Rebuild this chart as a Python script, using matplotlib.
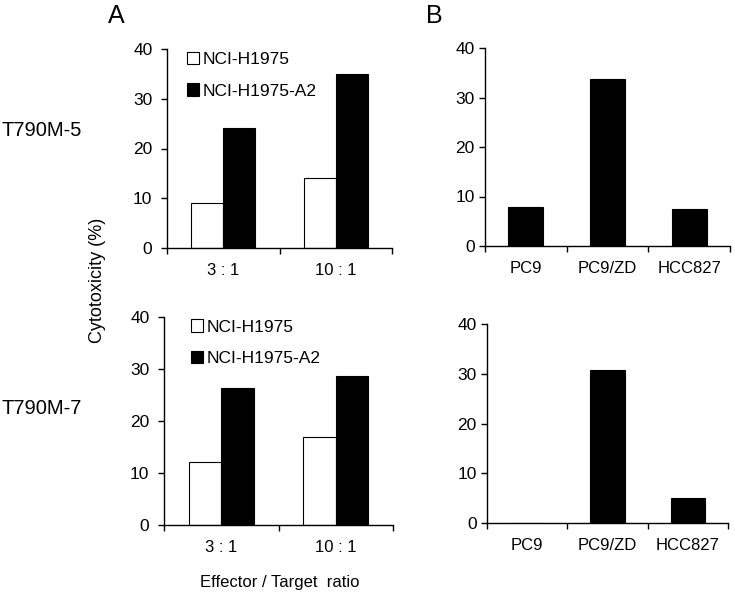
import numpy as np
import matplotlib
matplotlib.use("Agg")
import matplotlib.pyplot as plt

plt.rcParams["font.family"] = ["Liberation Sans", "DejaVu Sans"]

ratios = ["3 : 1", "10 : 1"]
series = ["NCI-H1975", "NCI-H1975-A2"]
cell_lines = ["PC9", "PC9/ZD", "HCC827"]

# panel A (ratio vs cytotoxicity)
t5_h1975 = [9.0, 14.0]
t5_a2 = [24.1, 34.9]
t7_h1975 = [12.1, 17.0]
t7_a2 = [26.3, 28.7]

# panel B (cell lines)
t5_lines = [7.8, 33.7, 7.5]
t7_lines = [0.0, 30.8, 5.1]

W, H = 735, 597
fig = plt.figure(figsize=(W / 100, H / 100), dpi=100)


def make_ax(x0, y0, x1, y1):
    # pixel box -> figure fraction
    return fig.add_axes([x0 / W, 1 - y1 / H, (x1 - x0) / W, (y1 - y0) / H])


def style(ax, labels, ypad):
    n = len(labels)
    ax.set_xlim(0, n)
    ax.set_ylim(0, 40)
    ax.set_yticks([0, 10, 20, 30, 40])
    ax.set_xticks(np.arange(n + 1))
    ax.set_xticklabels([])
    ax.set_xticks(np.arange(n) + 0.5, minor=True)
    ax.set_xticklabels(labels, minor=True)
    ax.tick_params(axis="x", which="major", direction="out", length=4.5, width=1)
    ax.tick_params(axis="x", which="minor", length=0, pad=11, labelsize=12)
    ax.tick_params(axis="y", direction="out", length=4.5, width=1, labelsize=12.5, pad=ypad)
    for s in ["top", "right"]:
        ax.spines[s].set_visible(False)
    for s in ["left", "bottom"]:
        ax.spines[s].set_linewidth(1.0)


def panel_a(ax, white, black, lx):
    x = np.arange(len(ratios)) + 0.5
    w = 0.285
    b1 = ax.bar(x - w / 2, white, w, color="white", edgecolor="black", linewidth=0.8, label=series[0])
    b2 = ax.bar(x + w / 2, black, w, color="black", edgecolor="black", linewidth=0.8, label=series[1])
    style(ax, ratios, 6)
    ax.legend(handles=[b1, b2], loc="upper left", bbox_to_anchor=(lx, 1.03), frameon=False,
              handlelength=0.7, handleheight=0.7, handletextpad=0.2, labelspacing=0.95,
              borderpad=0, fontsize=12.5)


def panel_b(ax, vals):
    x = np.arange(len(cell_lines)) + 0.5
    ax.bar(x, vals, 0.43, color="black", edgecolor="black", linewidth=0.8)
    style(ax, cell_lines, 3)


ax1 = make_ax(167, 49, 392, 248)
panel_a(ax1, t5_h1975, t5_a2, 0.05)
ax2 = make_ax(485, 48, 730, 246)
panel_b(ax2, t5_lines)
ax3 = make_ax(164, 317, 393, 525)
panel_a(ax3, t7_h1975, t7_a2, 0.08)
ax4 = make_ax(487, 324, 728, 523)
panel_b(ax4, t7_lines)

fig.text(116 / W, 1 - 16 / H, "A", fontsize=18, ha="center", va="center")
fig.text(434 / W, 1 - 16 / H, "B", fontsize=18, ha="center", va="center")
fig.text(2 / W, 1 - 130 / H, "T790M-5", fontsize=14.5, ha="left", va="center")
fig.text(2 / W, 1 - 409 / H, "T790M-7", fontsize=14.5, ha="left", va="center")
fig.text(97 / W, 1 - 280 / H, "Cytotoxicity (%)", fontsize=13, rotation=90, ha="center", va="center")
fig.text(280 / W, 1 - 582 / H, "Effector / Target  ratio", fontsize=12, ha="center", va="center")

fig.savefig("out.png", dpi=100)
